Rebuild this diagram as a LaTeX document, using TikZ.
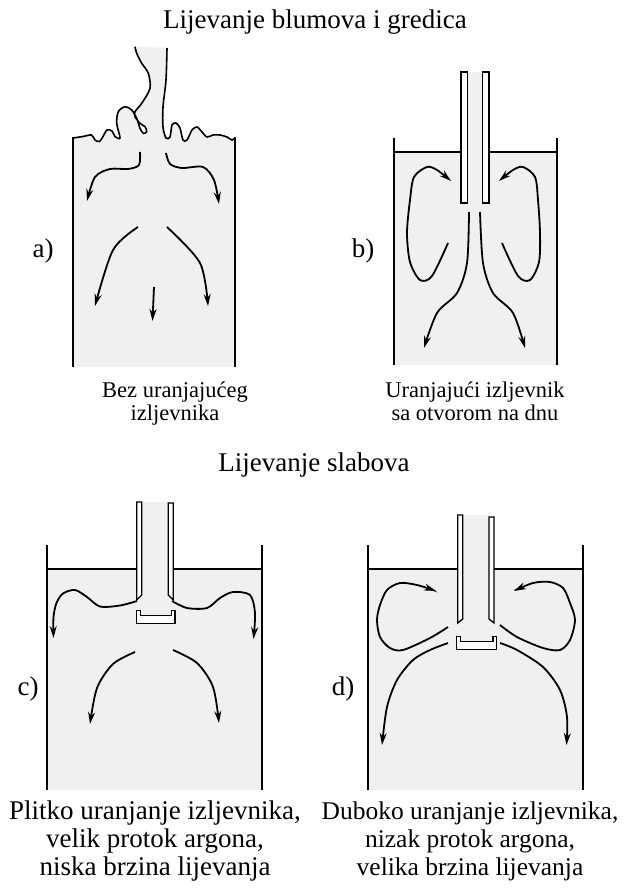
\documentclass[tikz,border=0pt]{standalone}
\usepackage{fontspec}
\setmainfont{Liberation Serif}
\usetikzlibrary{arrows.meta}

\begin{document}
\begin{tikzpicture}[x=1pt,y=-1pt,
  wall/.style={line width=2.8pt},
  surf/.style={line width=1.4pt},
  flow/.style={line width=1.8pt,-{Stealth[length=12pt,width=7pt]}},
  liquid/.style={fill=black!6},
  tube/.style={line width=1.3pt,fill=white},
  bigtxt/.style={font=\fontsize{27}{29}\selectfont,anchor=base,inner sep=0pt},
  midtxt/.style={font=\fontsize{25.5}{27}\selectfont,anchor=base,inner sep=0pt},
  smalltxt/.style={font=\fontsize{22.5}{24}\selectfont,anchor=base,inner sep=0pt},
]
\fill[white] (0,0) rectangle (624,890);
\useasboundingbox (0,0) rectangle (624,890);

% ---------- titles ----------
\node[bigtxt] (t1) at (315,29) {Lijevanje blumova i gredica};
\node[bigtxt] (t2) at (314,471) {Lijevanje slabova};

% ---------- a) open stream ----------
\fill[liquid] plot[smooth] coordinates {(73,138) (83,136.5) (91.5,135) (95,140) (99.5,141.5) (103,136.5) (107,130) (112,131) (115,136.5) (120,138) (116.7,123.3) (118.3,111.7) (125,106.7) (131.7,110) (136.7,118.3) (140,128.3) (143.3,133.3) (146.7,131.7) (145,126.7) (140,123.3) (135,116.7) (135,111.7) (141.7,103.3) (150,88.3) (148.3,73.3) (141.7,63.3) (136.7,53.3) (135,46.7)}
  -- plot[smooth] coordinates {(167,48) (166,80) (163,107) (163,127) (166,138) (170,137) (172,125) (176,123) (180,128) (183,140) (187,140) (192,130) (197,127) (202,132) (207,137) (213,135) (220,135) (227,137) (232,140) (235,138)}
  -- (235,367) -- (73,367) -- cycle;
\draw[surf,line width=1.6pt] plot[smooth] coordinates {(73,138) (83,136.5) (91.5,135) (95,140) (99.5,141.5) (103,136.5) (107,130) (112,131) (115,136.5) (120,138) (116.7,123.3) (118.3,111.7) (125,106.7) (131.7,110) (136.7,118.3) (140,128.3) (143.3,133.3) (146.7,131.7) (145,126.7) (140,123.3) (135,116.7) (135,111.7) (141.7,103.3) (150,88.3) (148.3,73.3) (141.7,63.3) (136.7,53.3) (135,46.7)};
\draw[surf,line width=1.6pt] plot[smooth] coordinates {(167,48) (166,80) (163,107) (163,127) (166,138) (170,137) (172,125) (176,123) (180,128) (183,140) (187,140) (192,130) (197,127) (202,132) (207,137) (213,135) (220,135) (227,137) (232,140) (235,138)};
\draw[wall] (73,137) -- (73,367);
\draw[wall] (235,137) -- (235,367);
\draw[flow] plot[smooth] coordinates {(140,152) (139,165) (128,169) (110,169) (95,177) (87,201)};
\draw[flow] plot[smooth] coordinates {(166,153) (170,164) (182,168) (203,167) (214,180) (219,204)};
\draw[flow] plot[smooth] coordinates {(138,227) (113,250) (95,306)};
\draw[flow] plot[smooth] coordinates {(167,227) (200,263) (208,306)};
\draw[flow] (154,287) -- (152.5,321);
\node[bigtxt] (la) at (43,258) {a)};
\node[smalltxt] (ca1) at (175,397) {Bez uranjajućeg};
\node[smalltxt] (ca2) at (175,420) {izljevnika};

% ---------- b) submerged nozzle, bottom opening ----------
\fill[liquid] (394,152) rectangle (557,365);
\fill[liquid] (464,72) rectangle (486,204);
\draw[surf] (394,152) -- (461,152);
\draw[surf] (489,152) -- (557,152);
\draw[tube] (461,72) rectangle (467.7,203);
\draw[tube] (482.3,72) rectangle (489,203);
\draw[wall] (394,138) -- (394,365);
\draw[wall] (557,138) -- (557,365);
\draw[flow] plot[smooth] coordinates {(448,243) (432,276) (420,280) (410,262) (407,233) (410,200) (414,177) (427,167) (437,170) (451,181)};
\draw[flow] plot[smooth] coordinates {(502,243) (518,276) (530,280) (539,262) (540,233) (538,200) (535,177) (523,167) (513,170) (499,181)};
\draw[flow] plot[smooth] coordinates {(469,212) (467,263) (457,293) (437,313) (424,348)};
\draw[flow] plot[smooth] coordinates {(480,212) (483,263) (493,293) (513,313) (525,348)};
\node[bigtxt] (lb) at (363,258) {b)};
\node[smalltxt] (cb1) at (475,397) {Uranjajući izljevnik};
\node[smalltxt] (cb2) at (475,420) {sa otvorom na dnu};

% ---------- c) shallow nozzle ----------
\fill[liquid] (47,569) rectangle (262,790);
\fill[liquid] (141.7,502) rectangle (168.3,600);
\draw[surf] (47,569) -- (136.7,569);
\draw[surf] (173.3,569) -- (262,569);
\draw[tube] (136.7,502) -- (141.7,502) -- (141.7,595) -- (136.7,600) -- cycle;
\draw[tube] (168.3,503) -- (173.3,503) -- (173.3,600) -- (168.3,595) -- cycle;
\draw[tube] (136.7,610.7) -- (136.7,623.3) -- (175,623.3) -- (175,610.7) -- (171.3,610.7) -- (171.3,615.5) -- (140.4,615.5) -- (140.4,610.7) -- cycle;
\draw[wall] (47,545) -- (47,790);
\draw[wall] (262,545) -- (262,790);
\draw[flow] plot[smooth] coordinates {(137,601) (120,605.5) (100,606.5) (87,597) (75,590) (63,593.5) (56.5,603) (53.5,617) (53.5,638)};
\draw[flow] plot[smooth] coordinates {(172,601) (187,608) (207,608) (220,598) (233,592) (250,595) (255,613) (253.5,639)};
\draw[flow] plot[smooth] coordinates {(135,652) (113,664) (97,688) (90,724)};
\draw[flow] plot[smooth] coordinates {(173,650) (197,663) (213,687) (219,723)};
\node[bigtxt] (lc) at (28,695) {c)};
\node[bigtxt] (cc1) at (155,819) {Plitko uranjanje izljevnika,};
\node[bigtxt] (cc2) at (155,847) {velik protok argona,};
\node[bigtxt] (cc3) at (155,875) {niska brzina lijevanja};

% ---------- d) deep nozzle ----------
\fill[liquid] (368,569) rectangle (583,790);
\fill[liquid] (462.7,515) rectangle (489,623);
\draw[surf] (368,569) -- (457.7,569);
\draw[surf] (494,569) -- (583,569);
\draw[tube] (457.7,515) -- (462.7,515) -- (462.7,619) -- (457.7,623) -- cycle;
\draw[tube] (489,517) -- (494,517) -- (494,623) -- (489,619) -- cycle;
\draw[tube] (456.7,636.7) -- (456.7,649.3) -- (496.7,649.3) -- (496.7,636.7) -- (493,636.7) -- (493,641.7) -- (460.4,641.7) -- (460.4,636.7) -- cycle;
\draw[wall] (368,545) -- (368,790);
\draw[wall] (583,545) -- (583,790);
\draw[flow] plot[smooth] coordinates {(448,627) (430,638) (403,650) (390,648) (380,637) (377,620) (380,605) (387,590) (400,583) (417,585) (436,591)};
\draw[flow] plot[smooth] coordinates {(500,625) (517,637) (543,648) (560,650) (570,640) (575,620) (570,603) (563,588) (550,582) (533,583) (514,591)};
\draw[flow] plot[smooth] coordinates {(448,643) (430,650) (413,660) (397,680) (387,707) (382,745)};
\draw[flow] plot[smooth] coordinates {(500,643) (517,650) (543,667) (560,690) (567,717) (566.5,745)};
\node[bigtxt] (ld) at (343,695) {d)};
\node[midtxt] (cd1) at (470,819) {Duboko uranjanje izljevnika,};
\node[midtxt] (cd2) at (470,847) {nizak protok argona,};
\node[midtxt] (cd3) at (470,875) {velika brzina lijevanja};
\end{tikzpicture}
\end{document}
